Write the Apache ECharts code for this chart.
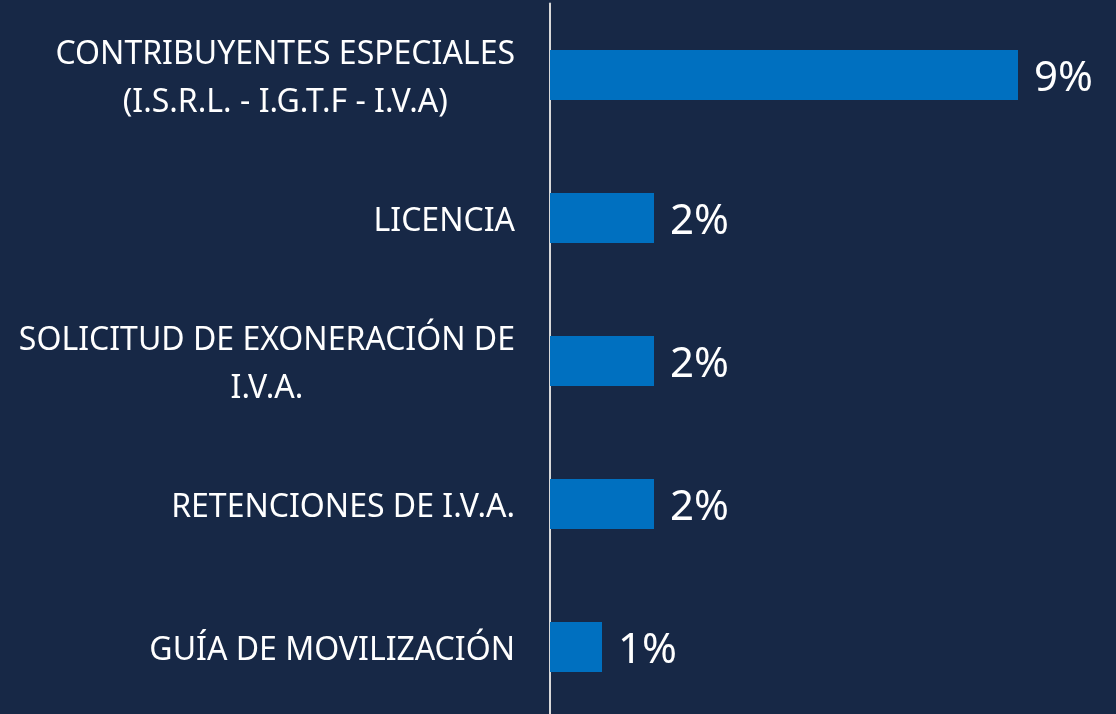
<!DOCTYPE html>
<html>
<head>
<meta charset="utf-8">
<script src="https://cdn.jsdelivr.net/npm/echarts@6/dist/echarts.min.js"></script>
<style>
  html, body { margin: 0; padding: 0; background: #172846; }
  #main { width: 1116px; height: 714px; }
</style>
</head>
<body>
<div id="main"></div>
<script>
// categorias y porcentajes
var categorias = [
    'CONTRIBUYENTES ESPECIALES\n(I.S.R.L. - I.G.T.F - I.V.A)',
    'LICENCIA',
    'SOLICITUD DE EXONERACIÓN DE\nI.V.A.',
    'RETENCIONES DE I.V.A.',
    'GUÍA DE MOVILIZACIÓN'
];
var porcentajes = [9, 2, 2, 2, 1];

var myChart = echarts.init(document.getElementById('main'));
var option = {
    backgroundColor: '#172846',
    animation: false,
    grid: {
        left: 550,
        right: 46,
        top: 3.5,
        height: 715,
        outerBoundsMode: 'none'
    },
    xAxis: {
        type: 'value',
        min: 0,
        max: 10,
        show: false
    },
    yAxis: {
        type: 'category',
        inverse: true,
        data: categorias,
        axisLine: { show: true, lineStyle: { color: '#D9D9D9', width: 2 } },
        axisTick: { show: false },
        axisLabel: {
            margin: 35,
            color: '#ffffff',
            fontFamily: 'Noto Sans',
            fontSize: 32,
            lineHeight: 48,
            padding: [7, 0, 0, 0],
            formatter: function (v) {
                return v.split('\n').map(function (l) { return '{c|' + l + '}'; }).join('\n');
            },
            rich: {
                c: { align: 'center', color: '#ffffff', fontFamily: 'Noto Sans', fontSize: 32, lineHeight: 48 }
            }
        }
    },
    series: [{
        type: 'bar',
        data: porcentajes,
        barWidth: 50,
        itemStyle: { color: '#0070C0' },
        label: {
            show: true,
            position: 'right',
            distance: 16,
            offset: [0, 4],
            color: '#ffffff',
            fontFamily: 'Noto Sans',
            fontSize: 42,
            formatter: '{c}%'
        }
    }]
};
myChart.setOption(option);
</script>
</body>
</html>
